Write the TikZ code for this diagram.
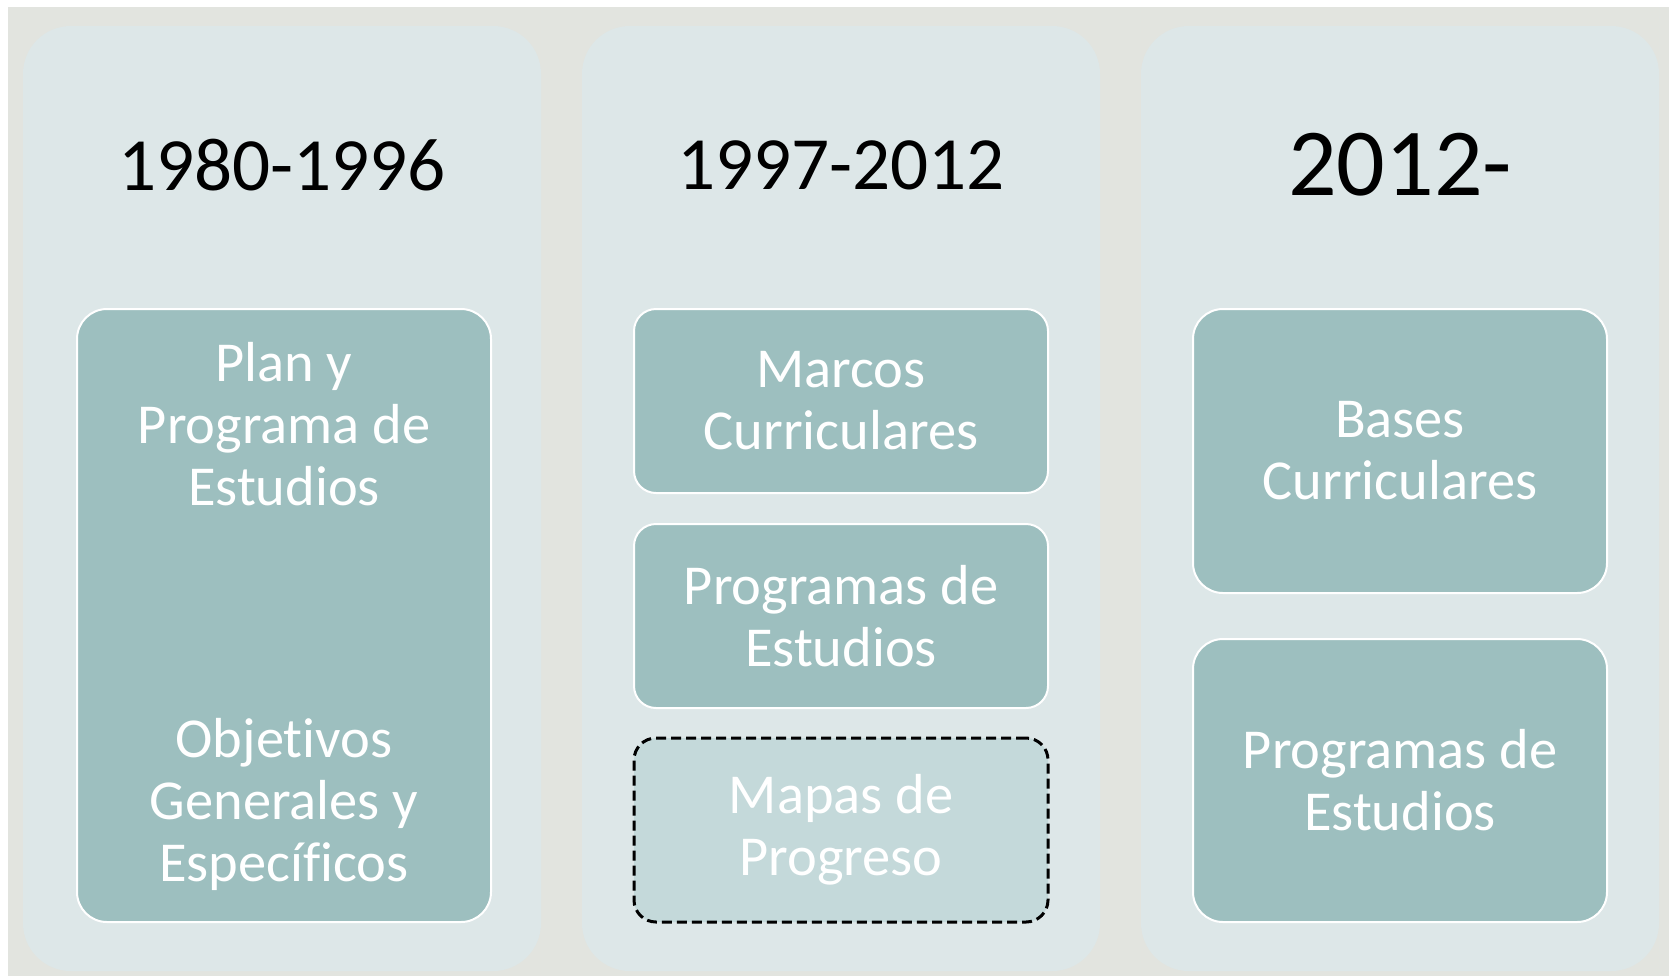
\documentclass[tikz,border=0pt]{standalone}
\usepackage{fontspec}
\setmainfont{Carlito}[Ligatures=NoCommon]
\usepackage{tikz}
\definecolor{page_gray}{RGB}{226,228,223}
\definecolor{panel_bg}{RGB}{221,231,232}
\definecolor{box_teal}{RGB}{157,191,191}
\definecolor{box_light}{RGB}{196,217,218}

\begin{document}
\begin{tikzpicture}[x=0.5pt,y=-0.5pt,
  panel/.style={fill=panel_bg,rounded corners=24pt,minimum width=259pt,minimum height=472.5pt,inner sep=0pt},
  period/.style={text=black,font=\fontsize{37.6}{42}\selectfont},
  tealbox/.style={fill=box_teal,draw=white,line width=1pt,rounded corners=15pt,minimum width=207pt,inner sep=0pt},
  boxtext/.style={text=white,align=center,font=\fontsize{28.2}{31}\selectfont}]
            \useasboundingbox (0,0) rectangle (1669,976);
            \fill[white] (0,0) rectangle (1669,976); %fondo
            \fill[page_gray] (8,7) rectangle (1669,976);
            %columnas
            \node[panel] (col1) at (282,498.5) {};
            \node[panel] (col2) at (841,498.5) {};
            \node[panel] (col3) at (1400,498.5) {};
            %periodos
            \node[period] (per1) at (282,165) {1980-1996};
            \node[period] (per2) at (841,165) {1997-2012};
            \node[period,font=\fontsize{48}{52}\selectfont] (per3) at (1400,165) {2012-};
            %1980-1996
            \node[tealbox,minimum height=306.5pt] (plan) at (284,615.5) {};
            \node[boxtext] (plantxt) at (284,424) {Plan y\\Programa de\\Estudios};
            \node[boxtext] (objtxt) at (284,804) {Objetivos\\Generales y\\Específicos};
            %1997-2012
            \node[tealbox,minimum height=92pt,rounded corners=11pt,boxtext] (marcos) at (841,401) {Marcos\\Curriculares};
            \node[tealbox,minimum height=92pt,rounded corners=11pt,boxtext] (prog2) at (841,616) {Programas de\\Estudios};
            \node[tealbox,fill=box_light,draw=black,dash pattern=on 5pt off 2.5pt,line width=1.5pt,
                  minimum height=92pt,rounded corners=11pt,boxtext] (mapas) at (841,830) {Mapas de\\Progreso};
            %2012-
            \node[tealbox,minimum height=142pt,boxtext] (bases) at (1400,451) {Bases\\Curriculares};
            \node[tealbox,minimum height=141.5pt,boxtext] (prog3) at (1400,780.5) {Programas de\\Estudios};
        \end{tikzpicture}
\end{document}
